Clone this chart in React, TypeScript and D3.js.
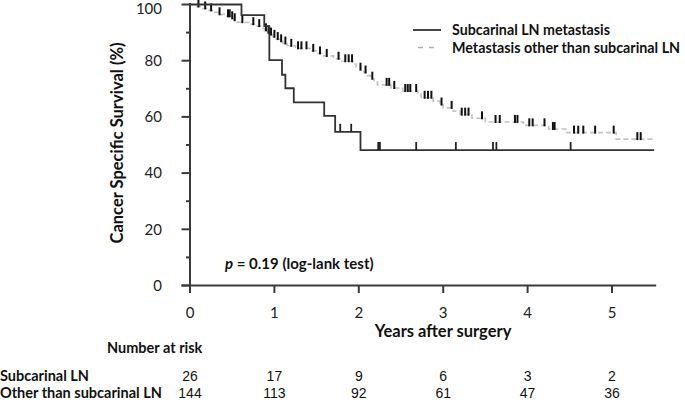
import React from "react";
import * as d3 from "d3";

const yearTicks = [0, 1, 2, 3, 4, 5];
const survivalTicks = [0, 20, 40, 60, 80, 100];
const minorSurvivalTicks = [10, 30, 50, 70, 90];

// Subcarinal LN metastasis: step times (years) and survival (%) after each step
const subTimes = [0.61, 0.88, 0.94, 1.09, 1.13, 1.23, 1.59, 1.72, 2.02];
const subSurv = [96.2, 92.3, 80.2, 75.0, 70.2, 65.2, 60.4, 54.7, 48.2];
const subCensor = [1.78, 1.91, 2.23, 2.25, 2.68, 3.15, 3.59, 3.63, 4.51];

// Metastasis other than subcarinal LN
const otherTimes = [
  0.05, 0.12, 0.2, 0.28, 0.35, 0.42, 0.48, 0.52, 0.56, 0.7, 0.78, 0.85, 0.88, 0.92,
  0.95, 0.98, 1.02, 1.06, 1.1, 1.15, 1.25, 1.45, 1.5, 1.56, 1.7, 1.78, 1.93, 1.97,
  2.02, 2.06, 2.1, 2.14, 2.18, 2.22, 2.38, 2.52, 2.7, 2.74, 2.88, 2.96, 3.0, 3.12,
  3.2, 3.34, 3.5, 3.95, 4.25, 4.45, 5.05,
];
const otherSurv = [
  99.3, 98.6, 97.9, 97.2, 96.5, 95.8, 95.1, 94.4, 93.7, 93.0, 92.3, 91.5, 90.8, 90.0,
  89.3, 88.5, 87.7, 86.9, 86.1, 85.3, 84.4, 83.5, 82.6, 81.7, 80.7, 79.8, 78.8, 77.8,
  76.8, 75.8, 74.7, 73.6, 72.5, 71.4, 70.3, 69.2, 68.0, 66.8, 65.6, 64.4, 63.2, 62.0,
  60.8, 59.5, 58.2, 57.0, 55.7, 54.4, 52.1,
];
const otherCensor = [
  0.1, 0.18, 0.25, 0.35, 0.45, 0.47, 0.5, 0.53, 0.62, 0.75, 0.82, 0.9, 0.93, 0.96,
  1.0, 1.04, 1.08, 1.13, 1.2, 1.28, 1.32, 1.38, 1.46, 1.54, 1.62, 1.76, 1.84, 1.88,
  1.92, 2.02, 2.08, 2.16, 2.33, 2.36, 2.42, 2.55, 2.58, 2.61, 2.68, 2.78, 2.82, 2.86,
  2.98, 3.1, 3.22, 3.26, 3.3, 3.46, 3.62, 3.67, 3.85, 3.88, 4.02, 4.06, 4.2, 4.3,
  4.32, 4.55, 4.6, 4.66, 4.8, 5.02, 5.3, 5.34,
];

const riskSub = [26, 17, 9, 6, 3, 2];
const riskOther = [144, 113, 92, 61, 47, 36];

const END = 5.5;
const labelFont = "Lato, 'Open Sans', sans-serif";
const numFont = "'Liberation Sans Narrow', 'Liberation Sans', sans-serif";

function survAt(times: number[], surv: number[], t: number) {
  let s = 100;
  times.forEach((tt, i) => {
    if (tt <= t) s = surv[i];
  });
  return s;
}

export default function App() {
  const x = d3.scaleLinear().domain([0, 5]).range([190, 612]);
  const y = d3.scaleLinear().domain([0, 100]).range([285.5, 4.5]);

  const stepLine = d3
    .line<[number, number]>()
    .x((d) => x(d[0]))
    .y((d) => y(d[1]))
    .curve(d3.curveStepAfter);

  const pts = (times: number[], surv: number[]): [number, number][] => [
    [0, 100],
    ...times.map((t, i) => [t, surv[i]] as [number, number]),
    [END, surv[surv.length - 1]],
  ];

  const axisColor = "#3a3a3a";

  return (
    <>
      <style>{`body{margin:0}`}</style>
      <svg width={685} height={400} style={{ display: "block", background: "#fff" }}>
        {/* other curve */}
        <path
          d={stepLine(pts(otherTimes, otherSurv)) || undefined}
          fill="none"
          stroke="#c4c4c4"
          strokeWidth={1.6}
          strokeDasharray="5,3"
        />
        {otherCensor.map((t, i) => {
          const yy = y(survAt(otherTimes, otherSurv, t));
          return (
            <line key={"oc" + i} x1={x(t)} x2={x(t)} y1={yy + 1} y2={yy - 7} stroke="#111" strokeWidth={2} />
          );
        })}
        {/* subcarinal curve */}
        <path
          d={stepLine(pts(subTimes, subSurv)) || undefined}
          fill="none"
          stroke="#333"
          strokeWidth={1.8}
        />
        {subCensor.map((t, i) => {
          const yy = y(survAt(subTimes, subSurv, t));
          return (
            <line key={"sc" + i} x1={x(t)} x2={x(t)} y1={yy} y2={yy - 8} stroke="#222" strokeWidth={1.8} />
          );
        })}

        {/* axes */}
        <line x1={190} x2={190} y1={3} y2={292} stroke={axisColor} strokeWidth={2} />
        <line x1={181.5} x2={x(END) + 2} y1={y(0)} y2={y(0)} stroke={axisColor} strokeWidth={2} />
        {survivalTicks.map((v) => (
          <g key={"yt" + v}>
            <line x1={181.5} x2={190} y1={y(v)} y2={y(v)} stroke={axisColor} strokeWidth={2} />
            <text x={162} y={Math.max(y(v), 9)} dy="0.35em" textAnchor="end" fontSize={15} fontFamily={labelFont} fill="#222">
              {v}
            </text>
          </g>
        ))}
        {minorSurvivalTicks.map((v) => (
          <line key={"ym" + v} x1={186} x2={190} y1={y(v)} y2={y(v)} stroke={axisColor} strokeWidth={2} />
        ))}
        {yearTicks.map((v) => (
          <g key={"xt" + v}>
            <line x1={x(v)} x2={x(v)} y1={y(0)} y2={y(0) + 7.5} stroke={axisColor} strokeWidth={2} />
            <text x={x(v)} y={313} dy="0.35em" textAnchor="middle" fontSize={15} fontFamily={labelFont} fill="#222">
              {v}
            </text>
          </g>
        ))}

        {/* axis titles */}
        <text
          transform="translate(117,143) rotate(-90)"
          textAnchor="middle"
          dy="0.35em"
          fontSize={16.5}
          fontWeight="bold"
          fontFamily={labelFont}
          fill="#111"
        >
          Cancer Specific Survival (%)
        </text>
        <text x={443} y={331} dy="0.35em" textAnchor="middle" fontSize={16.5} fontWeight="bold" fontFamily={labelFont} fill="#111">
          Years after surgery
        </text>

        {/* p value */}
        <text x={225} y={264} dy="0.35em" fontSize={15} fontWeight="bold" fontFamily={labelFont} fill="#111">
          <tspan fontStyle="italic">p</tspan> = 0.19 (log-lank test)
        </text>

        {/* legend */}
        <line x1={413} x2={441} y1={30} y2={30} stroke="#333" strokeWidth={1.8} />
        <text x={452} y={30} dy="0.35em" fontSize={14.5} fontWeight="bold" fontFamily={labelFont} fill="#111"
          textLength={158} lengthAdjust="spacingAndGlyphs">
          Subcarinal LN metastasis
        </text>
        <line x1={418} x2={437} y1={47.5} y2={47.5} stroke="#b0b0b0" strokeWidth={1.6} strokeDasharray="5,6" />
        <text x={452} y={48} dy="0.35em" fontSize={14.3} fontWeight="bold" fontFamily={labelFont} fill="#111">
          Metastasis other than subcarinal LN
        </text>

        {/* number at risk */}
        <text x={107} y={348} dy="0.35em" fontSize={14.5} fontWeight="bold" fontFamily={labelFont} fill="#111">
          Number at risk
        </text>
        <text x={0} y={376} dy="0.35em" fontSize={14.5} fontWeight="bold" fontFamily={labelFont} fill="#111">
          Subcarinal LN
        </text>
        <text x={0} y={393} dy="0.35em" fontSize={14.5} fontWeight="bold" fontFamily={labelFont} fill="#111">
          Other than subcarinal LN
        </text>
        {riskSub.map((n, i) => (
          <text key={"rs" + i} x={x(yearTicks[i])} y={376} dy="0.35em" textAnchor="middle" fontSize={14}
            fontFamily={numFont} fill="#111">
            {n}
          </text>
        ))}
        {riskOther.map((n, i) => (
          <text key={"ro" + i} x={x(yearTicks[i])} y={393} dy="0.35em" textAnchor="middle" fontSize={14}
            fontFamily={numFont} fill="#111">
            {n}
          </text>
        ))}
      </svg>
    </>
  );
}
